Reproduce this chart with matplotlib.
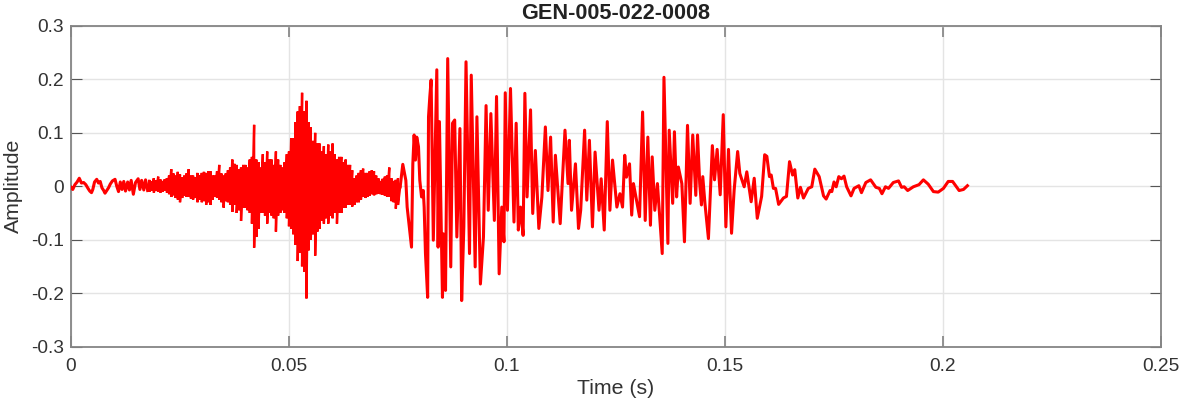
import numpy as np
import matplotlib as mpl; mpl.use("Agg")
import matplotlib.pyplot as plt

plt.rcParams.update({"font.family": ["Liberation Sans", "DejaVu Sans"], "axes.unicode_minus": False})

# quiet start, one trace
t_start = [0, 0.4, 0.9, 1.4, 1.9, 2.4, 2.9, 3.4, 3.9, 4.3, 4.7, 5.0, 5.4, 5.9, 6.3, 6.7, 7.1, 7.5, 7.8, 8.2, 8.6,
           9.0, 9.5, 10.1, 10.5, 10.9, 11.3, 11.7, 12.1, 12.5, 13.0, 13.4, 13.8, 14.3, 14.8, 15.4, 15.8, 16.2,
           16.7, 17.1, 17.6]
y_start = [-2, -6, 3, 8, 15, 6, 7, 3, -4, -9, -12, -6, 8, 13, 6, 9, -3, -8, -13, -8, -3,
           4, 10, 13, 0, -10, 8, -6, 9, -9, 8, -7, 11, -15, 7, 14, -6, 11,
           -7, 12, -8]

# fricative part: too dense to follow, so upper and lower envelope every 0.5 ms
t_dense = [18.0, 18.5, 19.0, 19.5, 20.0, 20.5, 21.0, 21.5, 22.0, 22.5, 23.0, 23.5, 24.0, 24.5, 25.0, 25.5, 26.0,
           26.5, 27.0, 27.5, 28.0, 28.5, 29.0, 29.5, 30.0, 30.5, 31.0, 31.5, 32.0, 32.5, 33.0, 33.5, 34.0, 34.5,
           35.0, 35.5, 36.0, 36.5, 37.0, 37.5, 38.0, 38.5, 39.0, 39.5, 40.0, 40.5, 41.0, 41.5, 42.0, 42.5, 43.0,
           43.5, 44.0, 44.5, 45.0, 45.5, 46.0, 46.5, 47.0, 47.5, 48.0, 48.5, 49.0, 49.5, 50.0, 50.5, 51.0, 51.5,
           52.0, 52.5, 53.0, 53.5, 54.0, 54.5, 55.0, 55.5, 56.0, 56.5, 57.0, 57.5, 58.0, 58.5, 59.0, 59.5, 60.0,
           60.5, 61.0, 61.5, 62.0, 62.5, 63.0, 63.5, 64.0, 64.5, 65.0, 65.5, 66.0, 66.5, 67.0, 67.5, 68.0, 68.5,
           69.0, 69.5, 70.0, 70.5, 71.0, 71.5, 72.0, 72.5, 73.0, 73.5, 74.0, 74.5, 75.0]
y_upper = [12, 9, 15, 11, 18, 13, 10, 13, 15, 20, 32, 24, 20, 27, 22, 17, 20,
           24, 32, 20, 20, 17, 25, 21, 25, 27, 25, 28, 28, 20, 20, 28, 40, 24,
           20, 24, 30, 35, 50, 42, 40, 32, 35, 40, 40, 35, 50, 55, 115, 50, 45,
           35, 60, 45, 65, 50, 50, 40, 65, 50, 40, 35, 45, 60, 65, 90, 90, 120,
           140, 150, 175, 140, 160, 120, 110, 85, 100, 80, 80, 65, 75, 60, 78, 65, 80,
           60, 50, 55, 55, 45, 50, 40, 40, 30, 15, 20, 25, 30, 33, 25, 25, 28,
           30, 28, 20, 15, 10, 14, 18, 20, 35, 15, 10, 12, 15]
y_lower = [-10, -8, -12, -9, -10, -12, -10, -8, -12, -15, -20, -17, -22, -25, -30, -22, -18,
           -20, -20, -23, -25, -22, -30, -25, -30, -28, -35, -30, -35, -25, -20, -22, -25, -30,
           -40, -28, -30, -35, -48, -35, -50, -45, -65, -40, -40, -45, -50, -70, -115, -95, -80,
           -50, -50, -55, -70, -50, -55, -60, -85, -55, -50, -45, -50, -60, -75, -80, -90, -110,
           -140, -125, -150, -160, -210, -120, -100, -90, -130, -85, -80, -65, -70, -60, -70, -55, -60,
           -50, -70, -50, -50, -40, -40, -35, -35, -38, -35, -30, -30, -25, -20, -22, -20, -18,
           -15, -17, -15, -14, -15, -16, -18, -20, -20, -28, -30, -42, -35]

# voiced part: peaks and troughs
t_voiced = [75.5, 76.1, 76.8, 77.1, 78.1, 78.4, 78.7, 79.0, 79.3, 79.7, 80.0, 80.4, 80.8, 81.0, 81.3, 81.8, 82.0, 82.3,
            82.6, 83.1, 83.5, 83.9, 84.2, 84.5, 85.2, 85.4, 85.9, 86.4, 87.1, 87.5, 88.0, 88.5, 89.2, 89.6, 90.1,
            90.6, 91.4, 91.8, 92.7, 93.1, 93.9, 94.6, 95.2, 95.7, 96.3, 97.1, 97.6, 98.2, 98.8, 99.3, 99.6, 100.1,
            100.8, 101.6, 102.1, 102.6, 103.1, 103.7, 104.1, 104.6, 105.4, 105.9, 106.5, 107.3, 108.0, 108.8,
            109.4, 110.0, 110.6, 111.1, 112.2, 113.3, 114.0, 114.3, 114.8, 115.7, 116.4, 116.9, 117.8, 118.3,
            118.9, 119.6, 120.2, 121.1, 121.6, 122.3, 123.0, 123.6, 124.2, 125.2, 125.9, 126.5, 127.0, 127.4,
            128.1, 128.6, 129.0, 130.4, 131.1, 131.7, 132.3, 132.9, 133.3, 133.9, 134.5, 135.6, 136.0, 136.9,
            137.2, 138.0, 138.4, 138.9, 139.3, 140.1, 140.7, 141.4, 142.0, 142.6, 143.3, 143.7, 144.2, 144.6,
            144.9, 145.4, 146.2, 147.1, 147.6, 148.2, 148.9, 149.6, 150.2, 150.8, 151.5, 152.1, 152.9, 153.4,
            154.4, 155.0, 156.0, 156.7, 157.4, 158.4, 159.1, 159.6, 160.2, 160.6, 161.1, 161.6, 162.3, 163.4,
            164.1, 164.8, 165.5, 166.0, 166.7, 167.3, 168.0, 169.1, 169.9, 170.6, 171.6, 172.6, 173.2, 174.1,
            174.5, 175.0, 175.5, 176.1, 176.7, 177.3, 177.9, 178.9, 179.6, 180.7, 181.3, 182.3, 183.4, 184.6,
            185.4, 186.0, 186.8, 187.5, 188.6, 189.8, 190.5, 191.1, 191.9, 193.2, 194.5, 195.5, 196.6, 197.8,
            198.9, 200.1, 201.2, 202.2, 203.7, 204.7, 205.6]
y_voiced = [-1, 41, 11, -39, -114, 42, 96, 49, 92, 74, 11, -20, -8, -39, -126, -208, 130, 168,
            199, -101, 61, 218, -114, 121, -208, -89, -195, 239, -151, 118, 124, -95, 108, -214, -76,
            233, -126, 208, -151, 130, -183, -95, 151, -45, 136, -64, 168, -164, -39, -104, 175, -45,
            183, -67, 118, -82, -39, -92, 174, -20, 143, -51, 67, -79, -20, 111,
            -8, 92, -67, 58, -70, 105, 5, 86, -45, 42, -79, -45, 105, -26,
            86, -76, 64, -45, 14, -82, 121, -45, 49, -39, -14, -39, 58, 17,
            42, -54, 5, -57, 139, -64, 92, -73, 55, -45, 5, -126, 204, -107,
            105, -32, 102, -20, 36, 5, -104, 114, -32, 96, -17, 96, 5, -35,
            18, -32, -98, 76, 12, 69, -16, 134, -76, 69, -88, -7, 65, 24,
            -1, 27, -29, 15, -60, -19, 59, 56, 18, 21, -4, -4, -34, -22,
            -19, 46, 21, 31, -22, -2, -22, -4, -1, 32, 18, -18, -24, -8,
            -10, 8, -1, 18, 14, 19, -1, -18, -4, 1, -12, 7, 12, -2,
            -4, -14, -1, -4, 7, 10, -2, -1, -8, -1, 3, 12, 4, -10,
            -11, -4, 9, 9, -8, -6, 1]

x_ticks = [0, 0.05, 0.1, 0.15, 0.2, 0.25]
x_labels = ["0", "0.05", "0.1", "0.15", "0.2", "0.25"]
y_ticks = [-0.3, -0.2, -0.1, 0, 0.1, 0.2, 0.3]
y_labels = ["-0.3", "-0.2", "-0.1", "0", "0.1", "0.2", "0.3"]

# walk up and down the envelope so the dense part fills in
t_env = np.repeat(t_dense, 2)
y_env = np.column_stack([y_upper, y_lower]).ravel()

fig = plt.figure(figsize=(11.82, 4.04), dpi=100)
ax = fig.add_axes([71 / 1182, 1 - 346.5 / 404, 1090 / 1182, 320.5 / 404])
ax.set_axisbelow(True)
# spikes in the dense part stay thin in the reference, the slower parts look heavier
ax.plot(np.array(t_start) / 1000, np.array(y_start) / 1000, color="#ff0000", lw=2.2, zorder=3)
ax.plot(np.concatenate([t_start[-1:], t_env, t_voiced[:1]]) / 1000,
        np.concatenate([y_start[-1:], y_env, y_voiced[:1]]) / 1000,
        color="#ff0000", lw=1.7, solid_joinstyle="miter", zorder=3)
ax.plot(np.array(t_voiced) / 1000, np.array(y_voiced) / 1000, color="#ff0000", lw=2.2,
        solid_joinstyle="round", zorder=3)
ax.set_xlim(0, 0.25); ax.set_ylim(-0.3, 0.3)

ax.set_xticks(x_ticks); ax.set_xticklabels(x_labels)
ax.set_yticks(y_ticks); ax.set_yticklabels(y_labels)
ax.grid(True, color="#e4e4e4", lw=1.0)
ax.tick_params(axis="both", direction="in", length=8, width=0.8, color="#555555", labelsize=13.8,
               labelcolor="#333333", top=True, right=True)
ax.tick_params(axis="x", pad=8, width=1.3, color="#8a8a8a")
ax.tick_params(axis="y", pad=5)
for s in ax.spines.values():
    s.set_color("#858585"); s.set_linewidth(1.3)

ax.set_title("GEN-005-022-0008", fontsize=15.6, fontweight="bold", color="#222222", pad=5)
ax.set_xlabel("Time (s)", fontsize=15.3, color="#333333", labelpad=3)
ax.set_ylabel("Amplitude", fontsize=15.3, color="#333333", labelpad=6)

fig.savefig("out.png", dpi=100)
